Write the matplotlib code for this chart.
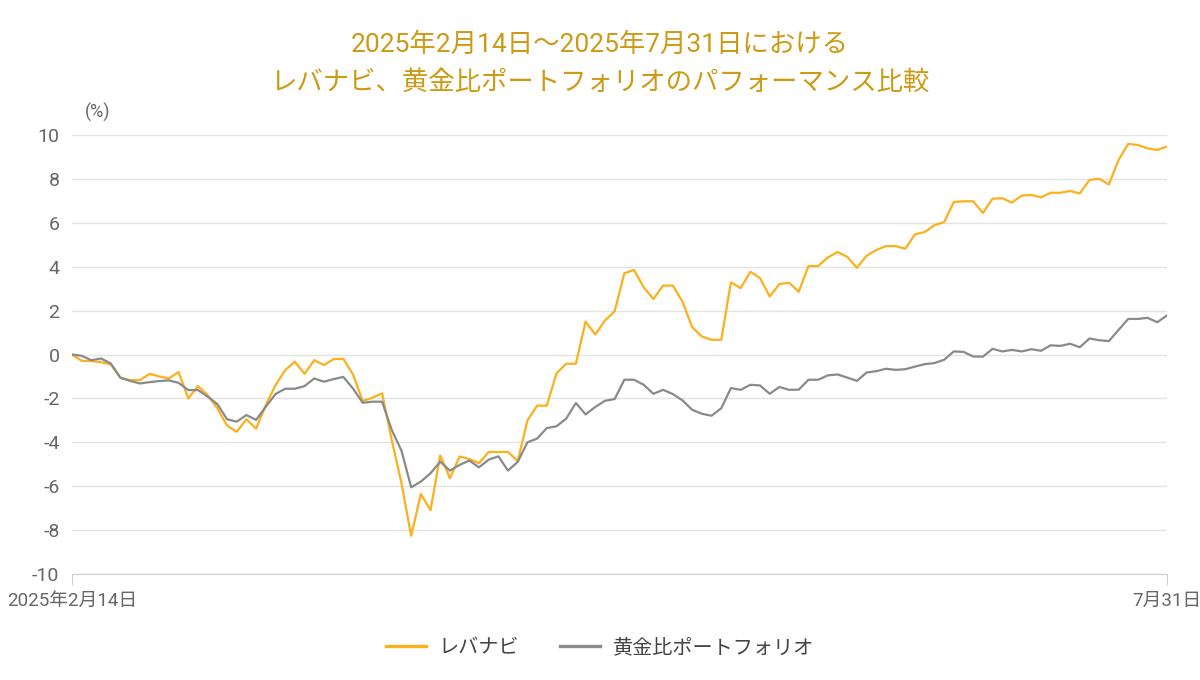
import matplotlib
matplotlib.use('Agg')
import matplotlib.pyplot as plt

plt.rcParams['font.family'] = ['Roboto', 'Noto Sans CJK JP', 'DejaVu Sans']

# performance (%) from 2025-02-14 to 2025-07-31, one value per trading day
levanavi = [0, -0.29, -0.3, -0.35, -0.45, -1.06, -1.17, -1.17, -0.88, -1.0,
            -1.09, -0.8, -2.0, -1.44, -1.85, -2.45, -3.24, -3.52, -2.95, -3.38,
            -2.3, -1.4, -0.71, -0.33, -0.88, -0.26, -0.48, -0.21, -0.2, -0.91,
            -2.12, -1.97, -1.77, -3.9, -5.86, -8.26, -6.36, -7.09, -4.6, -5.64,
            -4.65, -4.76, -4.95, -4.44, -4.44, -4.44, -4.86, -3.0, -2.33, -2.33,
            -0.86, -0.42, -0.42, 1.5, 0.91, 1.55, 1.97, 3.7, 3.85, 3.06,
            2.53, 3.14, 3.14, 2.41, 1.24, 0.82, 0.67, 0.67, 3.29, 3.02,
            3.77, 3.48, 2.64, 3.21, 3.27, 2.86, 4.03, 4.03, 4.42, 4.67,
            4.45, 3.95, 4.5, 4.76, 4.94, 4.94, 4.82, 5.48, 5.58, 5.89,
            6.03, 6.95, 6.98, 6.98, 6.45, 7.1, 7.12, 6.92, 7.24, 7.27,
            7.16, 7.37, 7.37, 7.45, 7.34, 7.95, 8.01, 7.75, 8.86, 9.6,
            9.54, 9.39, 9.32, 9.47]

golden = [0, -0.06, -0.26, -0.18, -0.41, -1.06, -1.2, -1.32, -1.26, -1.21,
          -1.18, -1.29, -1.62, -1.62, -1.92, -2.26, -2.95, -3.06, -2.76, -2.98,
          -2.38, -1.8, -1.56, -1.56, -1.44, -1.09, -1.24, -1.12, -1.02, -1.55,
          -2.2, -2.15, -2.15, -3.44, -4.38, -6.05, -5.79, -5.41, -4.88, -5.29,
          -5.03, -4.83, -5.14, -4.79, -4.64, -5.29, -4.89, -4.0, -3.83, -3.35,
          -3.27, -2.92, -2.21, -2.73, -2.39, -2.11, -2.03, -1.15, -1.15, -1.38,
          -1.79, -1.61, -1.8, -2.09, -2.52, -2.7, -2.79, -2.45, -1.53, -1.61,
          -1.38, -1.41, -1.79, -1.48, -1.61, -1.6, -1.15, -1.15, -0.95, -0.91,
          -1.05, -1.2, -0.82, -0.76, -0.65, -0.7, -0.67, -0.55, -0.44, -0.39,
          -0.24, 0.14, 0.12, -0.09, -0.1, 0.26, 0.14, 0.21, 0.14, 0.24,
          0.17, 0.42, 0.39, 0.49, 0.33, 0.73, 0.65, 0.61, 1.12, 1.62,
          1.62, 1.67, 1.47, 1.78]

yticks = [-10, -8, -6, -4, -2, 0, 2, 4, 6, 8, 10]
xlabels = ['2025年2月14日', '7月31日']

orange = '#FBB01C'
gray = '#8A8A8A'
textgray = '#666666'
titlecolor = '#CC9A14'

fig = plt.figure(figsize=(12, 6.8), dpi=100)
ax = fig.add_axes([72/1200, 1 - 574/680, (1167 - 72)/1200, (574 - 135)/680])

x = list(range(len(levanavi)))
ax.plot(x, levanavi, color=orange, lw=1.6, label='レバナビ', zorder=3)
ax.plot(x, golden, color=gray, lw=1.6, label='黄金比ポートフォリオ', zorder=3)

ax.set_xlim(0, len(levanavi) - 1)
ax.set_ylim(-10, 10)
ax.set_yticks(yticks)
ax.set_yticklabels([str(v) for v in yticks], fontsize=14, color=textgray)
ax.set_xticks([0, len(levanavi) - 1])
ax.set_xticklabels(xlabels, fontsize=13.5, color=textgray)

ax.grid(axis='y', color='#E3E3E3', lw=1)
ax.set_axisbelow(True)
for s in ['top', 'right', 'left']:
    ax.spines[s].set_visible(False)
ax.spines['bottom'].set_color('#D0D0D0')
ax.tick_params(axis='y', length=0, pad=9)
ax.tick_params(axis='x', length=8, color='#D0D0D0', pad=5)

fig.text(98/1200, 1 - 112/680, '(%)', fontsize=13, color=textgray,
         ha='center', va='center')

fig.text(0.5, 1 - 45/680, '2025年2月14日～2025年7月31日における',
         fontsize=19, color=titlecolor, ha='center', va='center')
fig.text(0.5, 1 - 82/680, 'レバナビ、黄金比ポートフォリオのパフォーマンス比較',
         fontsize=19, color=titlecolor, ha='center', va='center')

leg = fig.legend(loc='center', bbox_to_anchor=(0.5, 1 - 648/680), ncol=2,
                 frameon=False, fontsize=14.5, handlelength=2.0,
                 handletextpad=0.65, columnspacing=2.0, labelcolor='#444444')
for line in leg.get_lines():
    line.set_linewidth(2.4)

fig.savefig('out.png', dpi=100)
